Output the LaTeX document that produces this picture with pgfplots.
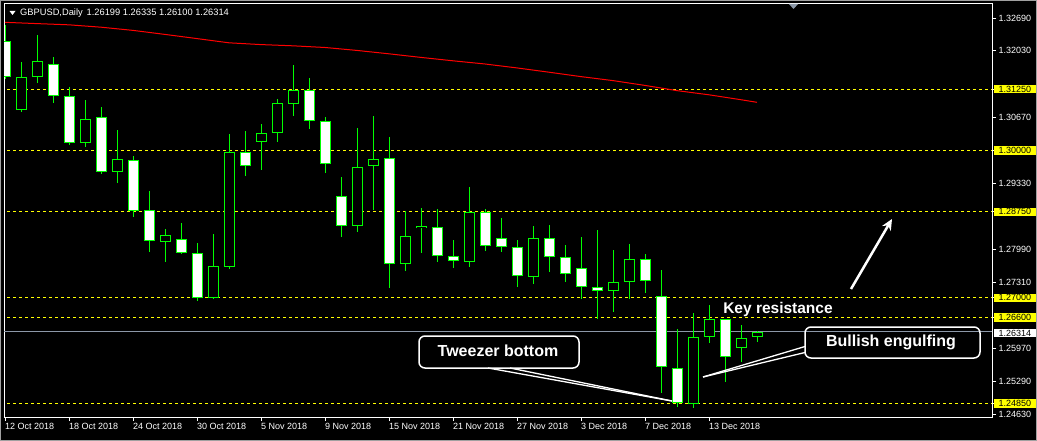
\documentclass[border=0pt]{standalone}
\usepackage{fontspec}
\setmainfont{Liberation Sans}
\usepackage{pgfplots}
\usepackage{pgfplotstable}
\pgfplotsset{compat=1.18}
\usetikzlibrary{arrows.meta}

\definecolor{cgreen}{RGB}{0,255,0}
\definecolor{lvl}{RGB}{255,255,0}
\definecolor{pline}{RGB}{140,152,168}
\definecolor{edge}{RGB}{160,160,160}

% daily GBPUSD bars, i = bar number from 12 Oct 2018
\pgfplotstableread{
i o h l c
0 1.32233 1.32552 1.31454 1.31488
1 1.30817 1.31793 1.30788 1.31488
2 1.31488 1.32349 1.31366 1.31814
3 1.31753 1.31895 1.30971 1.31101
4 1.31101 1.31285 1.30117 1.30145
5 1.30145 1.31026 1.30076 1.30633
6 1.30674 1.30878 1.29526 1.29567
7 1.29567 1.30416 1.29343 1.29819
8 1.29799 1.29887 1.28651 1.28773
9 1.28782 1.29174 1.27939 1.28151
10 1.28130 1.28401 1.27736 1.28273
11 1.28191 1.28523 1.27890 1.27906
12 1.27906 1.28116 1.26942 1.26991
13 1.26991 1.28299 1.26970 1.27642
14 1.27634 1.30334 1.27593 1.29962
15 1.29962 1.30395 1.29486 1.29677
16 1.30178 1.30538 1.29602 1.30348
17 1.30348 1.31046 1.30178 1.30959
18 1.30951 1.31738 1.30701 1.31224
19 1.31224 1.31474 1.30430 1.30593
20 1.30593 1.30674 1.29547 1.29718
21 1.29066 1.29459 1.28244 1.28456
22 1.28456 1.30456 1.28346 1.29657
23 1.29677 1.30701 1.28794 1.29819
24 1.29840 1.30267 1.27206 1.27683
25 1.27683 1.28767 1.27552 1.28252
26 1.28415 1.28828 1.27919 1.28456
27 1.28436 1.28808 1.27736 1.27845
28 1.27845 1.28171 1.27613 1.27744
29 1.27723 1.29256 1.27634 1.28741
30 1.28741 1.28802 1.27959 1.28049
31 1.28212 1.28625 1.27933 1.28029
32 1.28029 1.28171 1.27227 1.27438
33 1.27418 1.28462 1.27288 1.28212
34 1.28212 1.28482 1.27532 1.27825
35 1.27825 1.28069 1.27329 1.27479
36 1.27601 1.28238 1.26970 1.27215
37 1.27215 1.28375 1.26563 1.27133
38 1.27133 1.27968 1.26706 1.27316
39 1.27316 1.28090 1.26970 1.27784
40 1.27784 1.27886 1.27092 1.27337
41 1.27038 1.27561 1.25057 1.25587
42 1.25566 1.26360 1.24785 1.24854
43 1.24840 1.26685 1.24752 1.26209
44 1.26209 1.26854 1.26075 1.26563
45 1.26563 1.26563 1.25281 1.25790
46 1.25973 1.26447 1.25701 1.26177
47 1.26199 1.26335 1.26100 1.26314
}\candles

% moving average (red)
\pgfplotstableread{
i ma
0 1.32607
2 1.32581
4 1.32556
6 1.32508
8 1.32443
10 1.32361
12 1.32276
14 1.32190
16 1.32154
18 1.32129
20 1.32095
22 1.32035
24 1.31966
26 1.31893
28 1.31824
30 1.31759
32 1.31679
34 1.31592
36 1.31502
38 1.31421
40 1.31323
42 1.31217
44 1.31132
46 1.31032
47 1.30979
}\maline

\begin{document}
\begin{tikzpicture}
\fill[black] (0,0) rectangle (1037pt,-441pt);
\draw[edge, line width=2pt] (0,0) rectangle (1037pt,-441pt);

\begin{axis}[
  at={(4pt,-4pt)}, anchor=north west,
  scale only axis, width=988pt, height=413pt,
  xmin=-0.0625, xmax=61.6875,
  ymin=1.24575, ymax=1.32980,
  axis line style={white, line width=1pt},
  tick style={white, line width=0.8pt},
  major tick length=4pt,
  tick align=outside,
  xtick pos=bottom, ytick pos=right,
  yticklabel pos=right,
  xtick={0,4,...,44},
  xticklabels={12 Oct 2018,18 Oct 2018,24 Oct 2018,30 Oct 2018,5 Nov 2018,9 Nov 2018,15 Nov 2018,21 Nov 2018,27 Nov 2018,3 Dec 2018,7 Dec 2018,13 Dec 2018},
  ytick={1.32690,1.32030,1.30670,1.29330,1.27990,1.27310,1.25970,1.25290,1.24630},
  extra y ticks={1.3125,1.3,1.2875,1.27,1.266,1.2485},
  extra y tick style={yticklabel style={fill=lvl, text=black}},
  scaled y ticks=false,
  tick label style={font=\fontsize{9}{10}\selectfont, text=white},
  xticklabel style={anchor=north west, inner sep=0pt, yshift=-2pt},
  yticklabel style={anchor=west, inner xsep=4.5pt, inner ysep=1pt, xshift=-2pt},
  /pgf/number format/fixed,
  /pgf/number format/fixed zerofill,
  /pgf/number format/precision=5,
  /pgf/number format/assume math mode=true,
]
% level lines
\addplot[lvl, line width=1pt, dash pattern=on 3pt off 3pt, forget plot] coordinates {(-1,1.3125) (62,1.3125)};
\addplot[lvl, line width=1pt, dash pattern=on 3pt off 3pt, forget plot] coordinates {(-1,1.3000) (62,1.3000)};
\addplot[lvl, line width=1pt, dash pattern=on 3pt off 3pt, forget plot] coordinates {(-1,1.2875) (62,1.2875)};
\addplot[lvl, line width=1pt, dash pattern=on 3pt off 3pt, forget plot] coordinates {(-1,1.2700) (62,1.2700)};
\addplot[lvl, line width=1pt, dash pattern=on 3pt off 3pt, forget plot] coordinates {(-1,1.2660) (62,1.2660)};
\addplot[lvl, line width=1pt, dash pattern=on 3pt off 3pt, forget plot] coordinates {(-1,1.2485) (62,1.2485)};
% bid line
\addplot[pline, line width=1pt, forget plot] coordinates {(-1,1.26314) (62,1.26314)};
% MA
\addplot[red, line width=1pt, forget plot] table[x=i, y=ma] {\maline};

% wicks
\addplot[draw=none, mark=none, forget plot,
  error bars/.cd, y dir=both, y explicit, error mark=none,
  error bar style={draw=cgreen, line width=1pt, solid}]
  table[x=i, y expr={(\thisrow{h}+\thisrow{l})/2}, y error expr={(\thisrow{h}-\thisrow{l})/2}] {\candles};
% body outline
\addplot[draw=none, mark=none, forget plot,
  error bars/.cd, y dir=both, y explicit, error mark=none,
  error bar style={draw=cgreen, line width=11pt, solid}]
  table[x=i, y expr={(\thisrow{o}+\thisrow{c})/2}, y error expr={abs(\thisrow{o}-\thisrow{c})/2}] {\candles};
% body inside: black for all
\addplot[draw=none, mark=none, forget plot,
  error bars/.cd, y dir=both, y explicit, error mark=none,
  error bar style={draw=black, line width=9pt, solid}]
  table[x=i, y expr={(\thisrow{o}+\thisrow{c})/2}, y error expr={max(abs(\thisrow{o}-\thisrow{c})/2-0.0002,0)}] {\candles};
% body inside: white for falling bars
\addplot[draw=none, mark=none, forget plot,
  error bars/.cd, y dir=both, y explicit, error mark=none,
  error bar style={draw=white, line width=9pt, solid}]
  table[x=i, y expr={(\thisrow{o}+\thisrow{c})/2}, y error expr={(\thisrow{o}>\thisrow{c})*max(abs(\thisrow{o}-\thisrow{c})/2-0.0002,0)}] {\candles};
\end{axis}

\begin{scope}[x=1pt, y=-1pt]
% header
\fill[white] (9.5,11) -- (15.5,11) -- (12.5,15) -- cycle;
\node[anchor=west, inner sep=0pt, text=white, font=\fontsize{9.3}{10}\selectfont] at (20,13) {GBPUSD,Daily\hspace{4pt}1.26199 1.26335 1.26100 1.26314};
\fill[pline] (789,4) -- (798,4) -- (793.5,9) -- cycle;
% bid label
\node[fill=white, text=black, anchor=west, inner xsep=4.5pt, inner ysep=1pt, font=\fontsize{9}{10}\selectfont] at (994,333) {1.26314};
% notes
\node[anchor=base, text=white, inner sep=0pt, font=\bfseries\fontsize{15.5}{16}\selectfont] at (778,313) {Key resistance};
\draw[white, line width=2.5pt, -{Stealth[length=11pt, width=10pt]}] (851,289) -- (892,219);
\draw[white, line width=1.5pt, rounded corners=6pt] (419,336) rectangle (579,368);
\draw[white, line width=1.3pt] (488,368) -- (672,401);
\draw[white, line width=1.3pt] (510,368) -- (672,401);
\node[anchor=base, text=white, inner sep=0pt, font=\bfseries\fontsize{16}{16}\selectfont] at (498,356.5) {Tweezer bottom};
\draw[white, line width=1.5pt, rounded corners=6pt] (805,327) rectangle (980,358);
\draw[white, line width=1.3pt] (805,346.5) -- (703,377);
\draw[white, line width=1.3pt] (805,352.5) -- (703,377);
\node[anchor=base, text=white, inner sep=0pt, font=\bfseries\fontsize{16}{16}\selectfont] at (891,346.5) {Bullish engulfing};
\end{scope}

\pgfresetboundingbox
\path[use as bounding box] (0,0) rectangle (1037pt,-441pt);
\end{tikzpicture}
\end{document}
